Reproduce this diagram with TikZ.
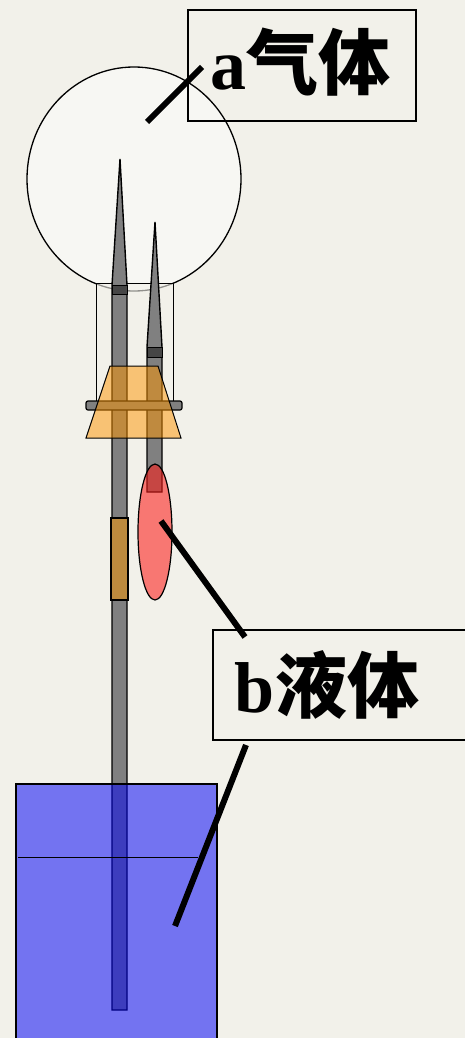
\documentclass[tikz,border=0pt]{standalone}
\usepackage{fontspec}
\setmainfont{Liberation Serif}
\newfontfamily\cjk{Noto Sans CJK SC}
\usetikzlibrary{calc}
\definecolor{paper}{RGB}{242,241,234}
\definecolor{tubegray}{RGB}{128,128,128}
\definecolor{banddark}{RGB}{70,70,70}
\definecolor{cork}{RGB}{255,149,0}
\definecolor{hose}{RGB}{188,138,62}
\definecolor{drop}{RGB}{253,25,21}
\definecolor{water}{RGB}{0,0,248}
\tikzset{
  glass/.style={draw=black, line width=1.3pt},
  tube/.style={draw=black, line width=1.4pt, fill=tubegray},
  band/.style={draw=black, line width=1pt, fill=banddark},
  pointer/.style={draw=black, line width=6pt},
  labelbox/.style={draw=black, line width=1.2pt, inner sep=0pt},
  labeltext/.style={inner sep=0pt, font=\fontsize{72}{72}\selectfont\bfseries},
}
\begin{document}
\begin{tikzpicture}[x=1pt,y=-1pt]
\useasboundingbox (0,0) rectangle (465,1038);
\fill[paper] (0,0) rectangle (465,1038);

% flask bulb and neck
\draw[glass, fill=white, fill opacity=0.45] (134,179) ellipse (107 and 112);
\draw[glass, line width=1pt, fill=paper, fill opacity=0.6] (96,283) rectangle (173,405);

% long tube (into the beaker) and short tube (into the drop)
\filldraw[tube] (120,159) -- (127,285) -- (127,1010) -- (112,1010) -- (112,285) -- cycle;
\filldraw[tube] (155,222) -- (162,347) -- (162,492) -- (147,492) -- (147,347) -- cycle;
\filldraw[band] (112,285) rectangle (127,294);
\filldraw[band] (147,347) rectangle (162,357);

% clamp bar and stopper
\filldraw[draw=black, line width=1.2pt, fill=tubegray, rounded corners=2pt] (86,401) rectangle (182,410);
\filldraw[draw=black, line width=1pt, fill=cork, fill opacity=0.5] (110,366) -- (158,366) -- (181,438) -- (86,438) -- cycle;

% rubber hose on the long tube
\filldraw[draw=black, line width=1.4pt, fill=hose] (111,518) rectangle (128,600);

% liquid drop b
\filldraw[draw=black, line width=1.2pt, fill=drop, fill opacity=0.56] (155,532) ellipse (17 and 68);

% beaker with liquid
\filldraw[draw=black, line width=1.2pt, fill=water, fill opacity=0.52] (16,784) rectangle (217,1045);
\draw[black, line width=1pt] (18,857) -- (198,857);

% labels
\node[labelbox, minimum width=228pt, minimum height=111pt] (boxa) at (302,65.5) {};
\node[labeltext, anchor=base] (texta) at (300,90) {a\cjk 气体};
\node[labelbox, minimum width=262pt, minimum height=110pt] (boxb) at (344,685) {};
\node[labeltext, anchor=base] (textb) at (327,712) {b\cjk 液体};

% pointer lines
\coordinate (pa) at (147,122);
\coordinate (pa2) at (202,67);
\coordinate (pb1) at (161,521);
\coordinate (pb1e) at (245,637);
\coordinate (pb2) at (246,745);
\coordinate (pb2e) at (175,926);
\draw[pointer] (pa) -- (pa2);
\draw[pointer] (pb1) -- (pb1e);
\draw[pointer] (pb2) -- (pb2e);
\end{tikzpicture}
\end{document}
